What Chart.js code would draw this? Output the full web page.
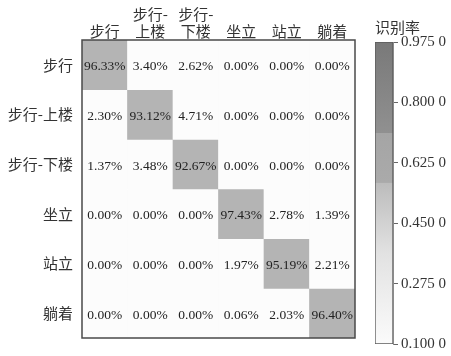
<!DOCTYPE html>
<html>
<head>
<meta charset="utf-8">
<script src="https://cdn.jsdelivr.net/npm/chart.js@4.4.1/dist/chart.umd.min.js"></script>
<style>
  html, body { margin: 0; padding: 0; background: #ffffff; }
  #wrap { position: relative; width: 451px; height: 356px; overflow: hidden; }
  #wrap canvas { position: absolute; left: 0; top: 0; }
</style>
</head>
<body>
<div id="wrap">
  <canvas id="matrix" width="451" height="356"></canvas>
  <canvas id="scale" width="451" height="356"></canvas>
</div>
<script>
// Activity classes (true class per row, predicted class per column)
const rowLabels = ['步行', '步行-上楼', '步行-下楼', '坐立', '站立', '躺着'];
const colLabels = [['步行'], ['步行-', '上楼'], ['步行-', '下楼'], ['坐立'], ['站立'], ['躺着']];

// Recognition rates in percent, one array per row
const rateWalk       = [96.33, 3.40, 2.62, 0.00, 0.00, 0.00];
const rateUpstairs   = [2.30, 93.12, 4.71, 0.00, 0.00, 0.00];
const rateDownstairs = [1.37, 3.48, 92.67, 0.00, 0.00, 0.00];
const rateSit        = [0.00, 0.00, 0.00, 97.43, 2.78, 1.39];
const rateStand      = [0.00, 0.00, 0.00, 1.97, 95.19, 2.21];
const rateLie        = [0.00, 0.00, 0.00, 0.06, 2.03, 96.40];
const rates = [rateWalk, rateUpstairs, rateDownstairs, rateSit, rateStand, rateLie];

// Colour bar range and ticks
const scaleMin = 0.1;
const scaleMax = 0.975;
const scaleTicks = [0.1, 0.275, 0.45, 0.625, 0.8, 0.975];
const scaleTitle = '识别率';

const CJK = '"Noto Sans CJK SC", "Noto Sans", sans-serif';
const SERIF = '"Liberation Serif", "DejaVu Serif", serif';

function cellColor(pct) {
  const v = pct / 100;
  return v >= 0.5 ? '#b4b4b4' : '#fcfcfc';
}

// One floating-bar dataset per row: each cell spans [row, row + 1]
const datasets = rates.map((row, r) => ({
  label: rowLabels[r],
  data: row.map(() => [r, r + 1]),
  backgroundColor: row.map(cellColor),
  borderWidth: 0,
  barPercentage: 1,
  categoryPercentage: 1,
  grouped: false
}));

const cellText = {
  id: 'cellText',
  afterDatasetsDraw(chart) {
    const ctx = chart.ctx;
    ctx.save();
    ctx.font = '13.5px ' + SERIF;
    ctx.fillStyle = '#222222';
    ctx.textAlign = 'center';
    ctx.textBaseline = 'middle';
    chart.data.datasets.forEach((ds, r) => {
      chart.getDatasetMeta(r).data.forEach((el, c) => {
        const y = (el.y + el.base) / 2 + 2;
        ctx.fillText(rates[r][c].toFixed(2) + '%', el.x, y);
      });
    });
    ctx.restore();
  }
};

const frame = {
  id: 'frame',
  afterDraw(chart) {
    const a = chart.chartArea;
    const ctx = chart.ctx;
    ctx.save();
    ctx.strokeStyle = '#4a4a4a';
    ctx.lineWidth = 1.5;
    ctx.strokeRect(a.left, a.top, a.right - a.left, a.bottom - a.top);
    ctx.restore();
  }
};

new Chart(document.getElementById('matrix'), {
  type: 'bar',
  data: { labels: colLabels, datasets },
  options: {
    responsive: false,
    animation: false,
    events: [],
    layout: { padding: { left: 0, right: 96, top: 0, bottom: 11 } },
    plugins: { legend: { display: false }, tooltip: { enabled: false } },
    scales: {
      x: {
        position: 'top',
        grid: { display: false, drawTicks: false },
        border: { display: false },
        ticks: {
          color: '#333333',
          font: { family: CJK, size: 15, lineHeight: 1.15 },
          padding: 0,
          maxRotation: 0,
          autoSkip: false
        },
        afterFit(scale) { scale.height = 40; }
      },
      y: {
        min: 0,
        max: rowLabels.length,
        reverse: true,
        grid: { display: false, drawTicks: false },
        border: { display: false },
        afterBuildTicks(scale) {
          scale.ticks = rowLabels.map((_, i) => ({ value: i + 0.5 }));
        },
        ticks: {
          color: '#333333',
          font: { family: CJK, size: 15 },
          padding: 9,
          autoSkip: false,
          callback: (value, index) => rowLabels[index]
        },
        afterFit(scale) { scale.width = 82; }
      }
    }
  },
  plugins: [cellText, frame]
});

// Colour bar: one floating bar spanning the full rate range, filled with the grey ramp
new Chart(document.getElementById('scale'), {
  type: 'bar',
  data: {
    labels: [''],
    datasets: [{
      data: [[scaleMin, scaleMax]],
      backgroundColor(context) {
        const a = context.chart.chartArea;
        if (!a) return '#cccccc';
        const g = context.chart.ctx.createLinearGradient(0, a.bottom, 0, a.top);
        g.addColorStop(0.00, '#fbfbfb');
        g.addColorStop(0.30, '#e2e2e2');
        g.addColorStop(0.533, '#bcbcbc');
        g.addColorStop(0.535, '#aaaaaa');
        g.addColorStop(0.698, '#a5a5a5');
        g.addColorStop(0.700, '#909090');
        g.addColorStop(1.00, '#797979');
        return g;
      },
      borderColor: '#5a5a5a',
      borderWidth: 1,
      borderSkipped: false,
      barPercentage: 1,
      categoryPercentage: 1
    }]
  },
  options: {
    responsive: false,
    animation: false,
    events: [],
    layout: { padding: { left: 375, right: 0, top: 0, bottom: 12 } },
    plugins: {
      legend: { display: false },
      tooltip: { enabled: false },
      title: {
        display: true,
        text: scaleTitle,
        align: 'start',
        color: '#333333',
        font: { family: CJK, size: 15, weight: 'normal', lineHeight: 1.2 },
        padding: { top: 18, bottom: 6 }
      }
    },
    scales: {
      x: { display: false },
      y: {
        position: 'right',
        min: scaleMin,
        max: scaleMax,
        afterBuildTicks(scale) {
          scale.ticks = scaleTicks.map(v => ({ value: v }));
        },
        grid: { drawOnChartArea: false, drawTicks: true, tickLength: 5, color: '#666666' },
        border: { display: true, color: '#8a8a8a' },
        ticks: {
          color: '#333333',
          font: { family: SERIF, size: 15 },
          padding: 3,
          autoSkip: false,
          callback: v => v.toFixed(3) + ' 0'
        },
        afterFit(scale) { scale.width = 58; }
      }
    }
  }
});
</script>
</body>
</html>
